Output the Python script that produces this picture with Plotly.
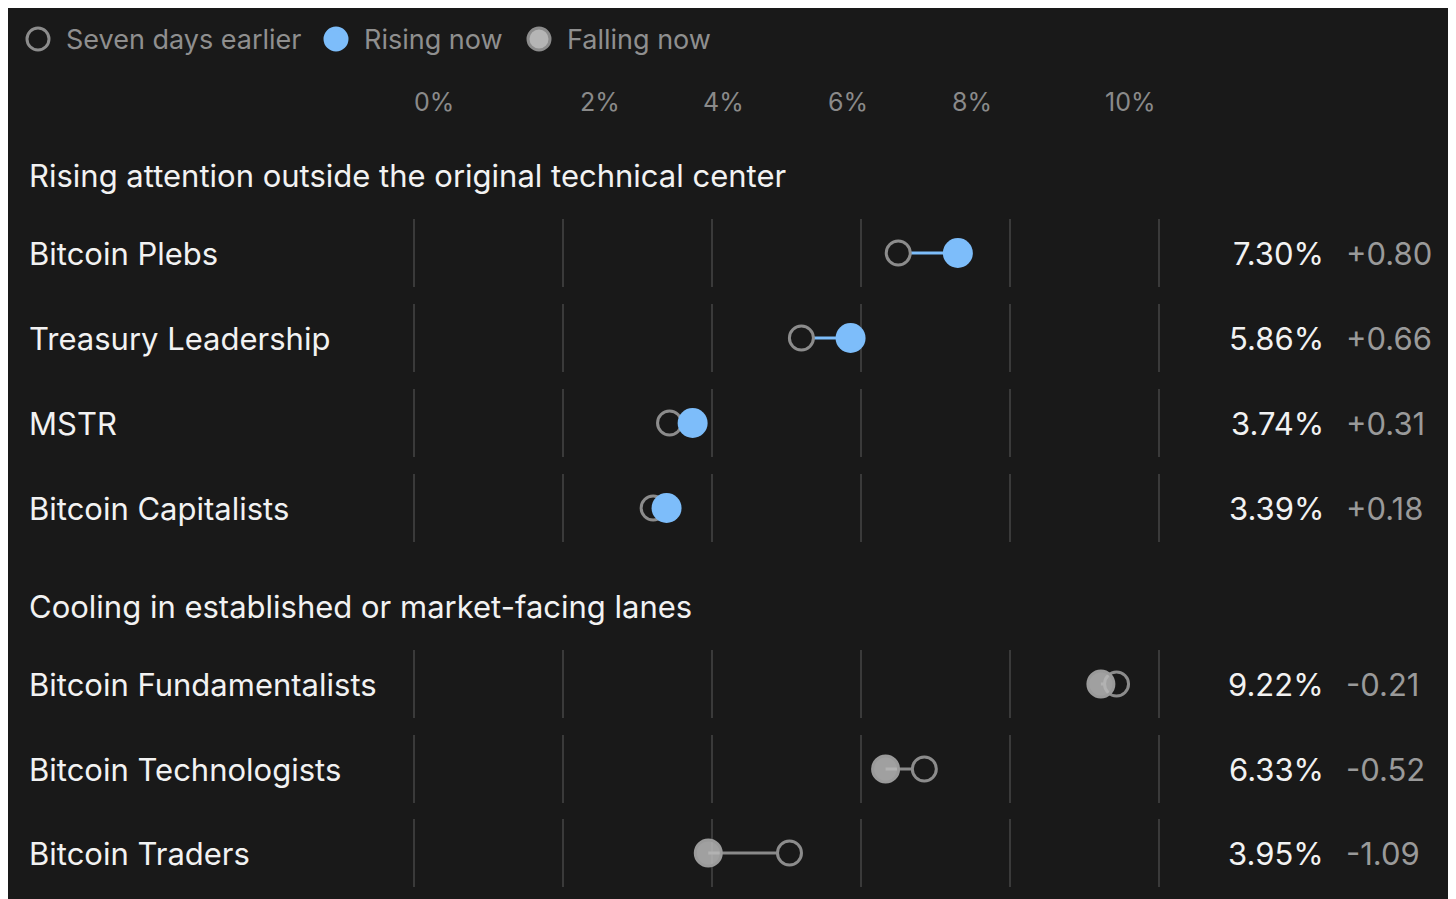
import plotly.graph_objects as go

groups = ["Rising attention outside the original technical center",
          "Cooling in established or market-facing lanes"]
rising_names = ["Bitcoin Plebs", "Treasury Leadership", "MSTR", "Bitcoin Capitalists"]
rising_now = [7.30, 5.86, 3.74, 3.39]
rising_delta = [0.80, 0.66, 0.31, 0.18]
falling_names = ["Bitcoin Fundamentalists", "Bitcoin Technologists", "Bitcoin Traders"]
falling_now = [9.22, 6.33, 3.95]
falling_delta = [-0.21, -0.52, -1.09]
grid_vals = [0, 2, 4, 6, 8, 10]
tick_pos = [0.27, 2.5, 4.16, 5.83, 7.49, 9.62]
tick_text = ["0%", "2%", "4%", "6%", "8%", "10%"]

# layout (pixel rows); page body margin offsets drawing by 8px
OFF = 8
W, H = 1456, 899
px_per = 74.5
x0px = 414 - OFF
rising_y = [v - OFF for v in [253, 338, 423, 508]]
falling_y = [v - OFF for v in [684, 769, 853]]
header_y = [v - OFF for v in [175, 606]]
LX = (27 - OFF) / W

BG = "#191919"
BLUE = "#7dbdfa"
GRAY = "#8c8c8c"
fig = go.Figure()

shapes = []
for ys in rising_y + falling_y:
    for g in grid_vals:
        shapes.append(dict(type="line", xref="x", yref="y", x0=g, x1=g, y0=ys - 34, y1=ys + 34,
                           line=dict(color="#3a3a3a", width=2), layer="below"))

def add_rows(names, now, delta, ys, rising):
    prev = [n - d for n, d in zip(now, delta)]
    for p, n, y in zip(prev, now, ys):
        fig.add_trace(go.Scatter(x=[p, n], y=[y, y], mode="lines",
                                 line=dict(color=BLUE if rising else "#8a8a8a", width=3),
                                 showlegend=False, hoverinfo="skip"))
    fig.add_trace(go.Scatter(x=prev, y=ys, mode="markers", showlegend=False,
                             marker=dict(size=24, color=BG, line=dict(color=GRAY, width=3))))
    if rising:
        fig.add_trace(go.Scatter(x=now, y=ys, mode="markers", showlegend=False,
                                 marker=dict(size=30, color=BLUE)))
    else:
        fig.add_trace(go.Scatter(x=now, y=ys, mode="markers", showlegend=False,
                                 marker=dict(size=26, color="rgba(185,185,185,0.85)",
                                             line=dict(color="#9a9a9a", width=3))))

add_rows(rising_names, rising_now, rising_delta, rising_y, True)
add_rows(falling_names, falling_now, falling_delta, falling_y, False)

ann = []
FONT = "Inter, Roboto, sans-serif"
FS = 31
for t, y in zip(groups, header_y):
    ann.append(dict(text=t, x=LX, xref="paper", y=y, yref="y", xanchor="left", showarrow=False,
                    font=dict(size=FS, color="#f2f2f2", family=FONT)))
for names, now, delta, ys in [(rising_names, rising_now, rising_delta, rising_y),
                               (falling_names, falling_now, falling_delta, falling_y)]:
    for nm, n, d, y in zip(names, now, delta, ys):
        ann.append(dict(text=nm, x=LX, xref="paper", y=y, yref="y", xanchor="left", showarrow=False,
                        font=dict(size=FS, color="#f2f2f2", family=FONT)))
        ann.append(dict(text=f"{n:.2f}%", x=(1326 - OFF) / W, xref="paper", y=y, yref="y", xanchor="right",
                        showarrow=False, font=dict(size=FS, color="#f2f2f2", family=FONT)))
        ann.append(dict(text=f"{d:+.2f}", x=(1344 - OFF) / W, xref="paper", y=y, yref="y",
                        xanchor="left", showarrow=False, font=dict(size=FS, color="#9a9a9a", family=FONT)))
for tp, tt in zip(tick_pos, tick_text):
    ann.append(dict(text=tt, x=tp, xref="x", y=102 - OFF, yref="y", showarrow=False,
                    font=dict(size=25, color="#8a8a8a", family=FONT)))

# legend
leg = [("Seven days earlier", BG, GRAY, 27), ("Rising now", BLUE, BLUE, 325), ("Falling now", "#b5b5b5", GRAY, 528)]
for label, fill, border, px in leg:
    shapes.append(dict(type="circle", xref="paper", yref="y", x0=(px - OFF) / W, x1=(px + 22 - OFF) / W,
                       y0=28 - OFF, y1=50 - OFF, fillcolor=fill, line=dict(color=border, width=3)))
    ann.append(dict(text=label, x=(px + 37 - OFF) / W, xref="paper", y=39 - OFF, yref="y", xanchor="left",
                    showarrow=False, font=dict(size=27, color="#8f8f8f", family=FONT)))

fig.update_layout(
    width=W, height=H, margin=dict(l=0, r=0, t=0, b=0),
    paper_bgcolor=BG, plot_bgcolor=BG, showlegend=False,
    xaxis=dict(range=[-x0px / px_per, (W - x0px) / px_per], visible=False),
    yaxis=dict(range=[H, 0], visible=False),
    shapes=shapes, annotations=ann,
)
fig.write_html("out.html")
